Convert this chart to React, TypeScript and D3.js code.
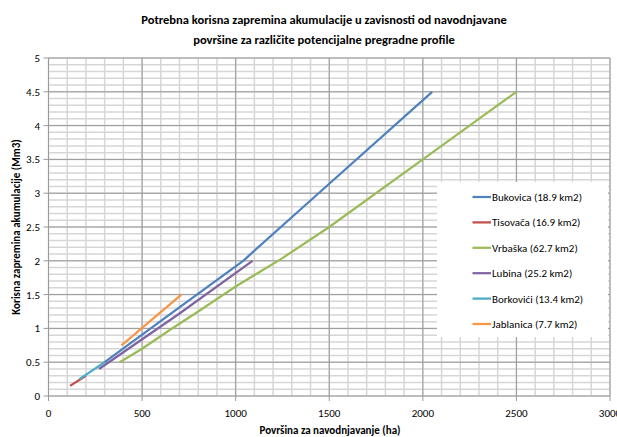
import * as d3 from 'd3';

type Pt = [number, number];

const xTicks = [0, 500, 1000, 1500, 2000, 2500, 3000];
const yTicks = [0, 0.5, 1, 1.5, 2, 2.5, 3, 3.5, 4, 4.5, 5];

const seriesNames = [
  'Bukovica (18.9 km2)',
  'Tisovača (16.9 km2)',
  'Vrbaška (62.7 km2)',
  'Lubina (25.2 km2)',
  'Borkovići (13.4 km2)',
  'Jablanica (7.7 km2)',
];
const seriesColors = ['#4F81BD', '#C0504D', '#9BBB59', '#8064A2', '#4BACC6', '#F79646'];

const bukovica: Pt[] = [[300, 0.5], [650, 1.21], [1040, 2.0], [1500, 3.14], [2050, 4.5]];
const tisovaca: Pt[] = [[115, 0.15], [200, 0.3]];
const vrbaska: Pt[] = [[380, 0.5], [500, 0.7], [650, 0.98], [800, 1.25], [1000, 1.62], [1250, 2.04], [1500, 2.5], [2000, 3.5], [2500, 4.5]];
const lubina: Pt[] = [[270, 0.4], [700, 1.22], [1090, 2.0]];
const borkovici: Pt[] = [[165, 0.25], [300, 0.5]];
const jablanica: Pt[] = [[390, 0.75], [710, 1.5]];

const seriesData = [bukovica, tisovaca, vrbaska, lubina, borkovici, jablanica];

const W = 617;
const H = 437;
const m = { left: 48.5, right: 7, top: 58, bottom: 41 };
const font = "Carlito, 'Liberation Sans Narrow', 'Open Sans', sans-serif";

export default function App() {
  const x = d3.scaleLinear().domain([0, 3000]).range([m.left, W - m.right]);
  const y = d3.scaleLinear().domain([0, 5]).range([H - m.bottom, m.top]);
  const line = d3.line<Pt>().x((d) => x(d[0])).y((d) => y(d[1]));

  const minorX = d3.range(0, 3001, 100);
  const minorY = d3.range(0, 51, 1).map((v) => v / 10);

  const legX = 437;
  const legY = 182;
  const legW = 171;
  const legH = 155;

  return (
    <svg width={W} height={H} style={{ position: 'absolute', left: 0, top: 0, background: '#fff' }} fontFamily={font}>
      <text x={324} y={24} textAnchor="middle" fontSize={12.5} fontWeight="bold">
        Potrebna korisna zapremina akumulacije u zavisnosti od navodnjavane
      </text>
      <text x={324} y={44} textAnchor="middle" fontSize={12.5} fontWeight="bold">
        površine za različite potencijalne pregradne profile
      </text>

      {minorY.map((v) => (
        <line key={'my' + v} x1={x(0)} x2={x(3000)} y1={y(v)} y2={y(v)} stroke="#d6d6d6" strokeWidth={1.5} />
      ))}
      {minorX.map((v) => (
        <line key={'mx' + v} x1={x(v)} x2={x(v)} y1={y(0)} y2={y(5)} stroke="#d6d6d6" strokeWidth={1.5} />
      ))}
      {yTicks.map((v) => (
        <line key={'gy' + v} x1={x(0) - 5} x2={x(3000)} y1={y(v)} y2={y(v)} stroke="#9a9a9a" strokeWidth={1} />
      ))}
      {xTicks.map((v) => (
        <line key={'gx' + v} x1={x(v)} x2={x(v)} y1={y(0) + 5} y2={y(5)} stroke="#9a9a9a" strokeWidth={1} />
      ))}

      {seriesData.map((d, i) => (
        <path key={seriesNames[i]} d={line(d) ?? ''} fill="none" stroke={seriesColors[i]} strokeWidth={2.25} />
      ))}

      <rect x={legX} y={legY} width={legW} height={legH} fill="#fff" />
      {seriesNames.map((n, i) => {
        const ly = legY + 15 + i * 25.4;
        return (
          <g key={n}>
            <line x1={472.5} x2={491} y1={ly} y2={ly} stroke={seriesColors[i]} strokeWidth={2.25} />
            <text x={492} y={ly + 4} fontSize={11}>{n}</text>
          </g>
        );
      })}

      {yTicks.map((v) => (
        <text key={'yl' + v} x={40} y={y(v) + 4} textAnchor="end" fontSize={11}>{v}</text>
      ))}
      {xTicks.map((v) => (
        <text key={'xl' + v} x={x(v)} y={y(0) + 21} textAnchor="middle" fontSize={11}>{v}</text>
      ))}

      <text x={330} y={434} textAnchor="middle" fontSize={11} fontWeight="bold">
        Površina za navodnjavanje (ha)
      </text>
      <text transform={`translate(20,${(y(0) + y(5)) / 2}) rotate(-90)`} textAnchor="middle" fontSize={11} fontWeight="bold">
        Korisna zapremina akumulacije (Mm3)
      </text>
    </svg>
  );
}
